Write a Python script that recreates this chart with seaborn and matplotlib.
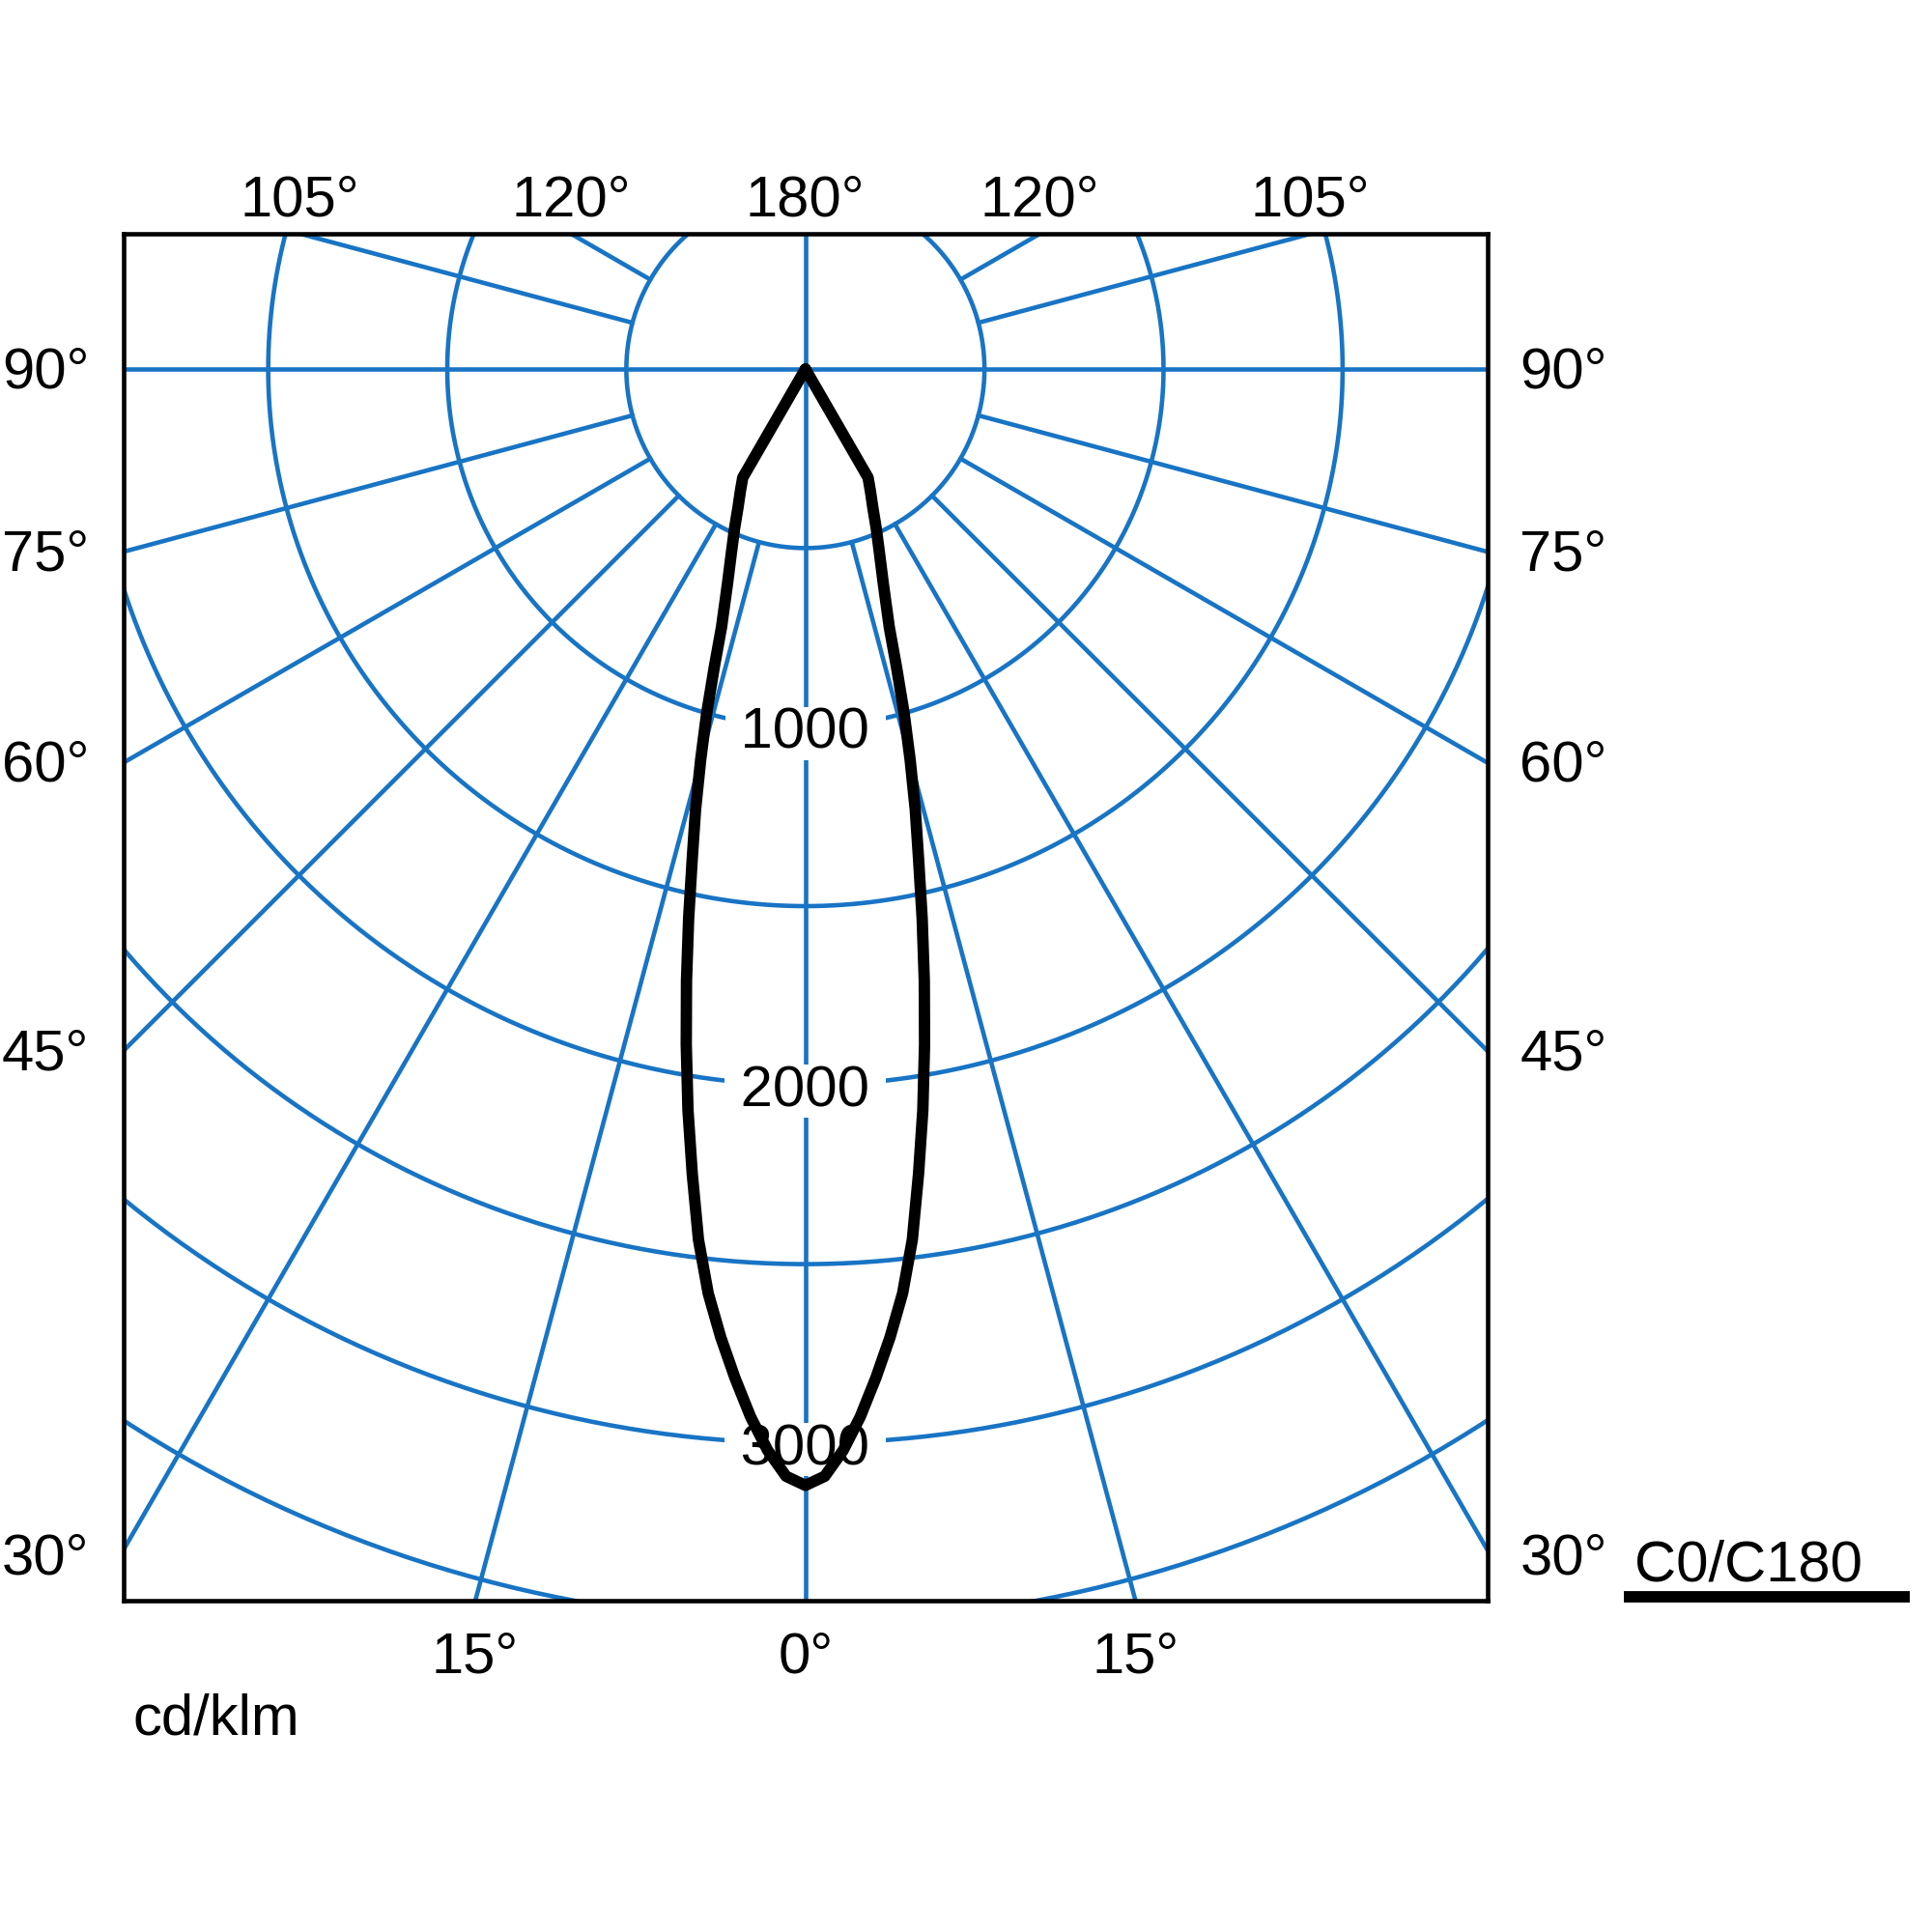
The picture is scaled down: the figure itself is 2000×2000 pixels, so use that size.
import numpy as np
import pandas as pd
import matplotlib
matplotlib.use("Agg")
import matplotlib.pyplot as plt
import seaborn as sns

# C0/C180 luminous intensity (cd/klm) against gamma angle from nadir
gamma_deg = [0, 1, 2, 3, 4, 5, 6, 7, 8, 9, 10, 11, 12, 13, 14, 15, 16, 17, 18,
             20, 22, 24, 26, 28, 30, 35, 90]
intensity = [3118, 3093, 3022, 2930, 2824, 2714, 2596, 2450, 2270, 2096, 1916, 1740,
             1568, 1405, 1268, 1130, 1000, 870, 758,
             635, 551, 486, 429, 387, 350, 0, 0]

ring_values = [500, 1000, 1500, 2000, 2500, 3000, 3500]
ring_labels = ["1000", "2000", "3000"]
spoke_angles = [15, 30, 45, 60, 75, 105, 120, 150, 165]
top_labels = ["105°", "120°", "180°", "120°", "105°"]
side_labels = ["90°", "75°", "60°", "45°", "30°"]
bottom_labels = ["15°", "0°", "15°"]

blue = "#1874c4"

sns.set_style("white")
plt.rcParams["font.family"] = ["Liberation Sans", "DejaVu Sans"]
plt.rcParams["text.color"] = "black"

fig = plt.figure(figsize=(20, 20), dpi=100)
ax = fig.add_axes([0.06375, 0.1715, 0.70625, 0.7075])
xmax = 1905
ymin, ymax = -3440, 378
ax.set_xlim(-xmax, xmax)
ax.set_ylim(ymin, ymax)
ax.set_xticks([])
ax.set_yticks([])
for s in ax.spines.values():
    s.set_color("black")
    s.set_linewidth(3.3)
    s.set_zorder(6)

# polar grid
lw_grid = 3.3
t = np.linspace(0, 2 * np.pi, 721)
for r in ring_values:
    ax.plot(r * np.sin(t), r * np.cos(t), color=blue, lw=lw_grid, zorder=1)
for a in spoke_angles:
    g = np.radians(a)
    for sgn in (-1, 1):
        ax.plot([sgn * 500 * np.sin(g), sgn * 8000 * np.sin(g)],
                [-500 * np.cos(g), -8000 * np.cos(g)], color=blue, lw=lw_grid, zorder=1)
ax.axhline(0, color=blue, lw=lw_grid, zorder=1)
ax.axvline(0, color=blue, lw=lw_grid, zorder=1)

fs = 43
for lab in ring_labels:
    ax.text(0, -float(lab) - 18, " " + lab + " ", ha="center", va="center", fontsize=fs,
            color="black", zorder=4,
            bbox=dict(boxstyle="square,pad=0", fc="white", ec="none"))

# intensity curve
g = np.radians(gamma_deg)
I = np.array(intensity, dtype=float)
xs = np.concatenate([(-I * np.sin(g))[::-1], I * np.sin(g)])
ys = np.concatenate([(-I * np.cos(g))[::-1], -I * np.cos(g)])
curve = pd.DataFrame({"x": xs, "y": ys})
sns.lineplot(data=curve, x="x", y="y", sort=False, estimator=None, color="black",
             linewidth=8.5, ax=ax, zorder=5, solid_joinstyle="round", solid_capstyle="round")
ax.set_xlabel("")
ax.set_ylabel("")

# angle labels around the box
top_x = [-ymax / np.tan(np.radians(15)), -ymax / np.tan(np.radians(30)), 0,
         ymax / np.tan(np.radians(30)), ymax / np.tan(np.radians(15))]
for x, lab in zip(top_x, top_labels):
    ax.text(x, 470, lab, ha="center", va="center", fontsize=fs, color="black", clip_on=False)
side_y = [0] + [-xmax * np.tan(np.radians(a)) for a in (15, 30, 45, 60)]
side_y[-1] -= 15
for y, lab in zip(side_y, side_labels):
    ax.text(-2000, y - 10, lab, ha="right", va="center", fontsize=fs, color="black", clip_on=False)
    ax.text(1995, y - 10, lab, ha="left", va="center", fontsize=fs, color="black", clip_on=False)
bx = -ymin * np.tan(np.radians(15))
for x, lab in zip([-bx, 0, bx], bottom_labels):
    ax.text(x, -3598, lab, ha="center", va="center", fontsize=fs, color="black", clip_on=False)

ax.text(-1877, -3815, "cd/klm", ha="left", va="baseline", fontsize=fs, color="black", clip_on=False)
ax.text(2315, -3385, "C0/C180", ha="left", va="baseline", fontsize=fs, color="black", clip_on=False)
ax.plot([2285, 3085], [-3429, -3429], color="black", lw=8.5, clip_on=False, solid_capstyle="butt")

fig.savefig("out.png", dpi=100, facecolor="white")
